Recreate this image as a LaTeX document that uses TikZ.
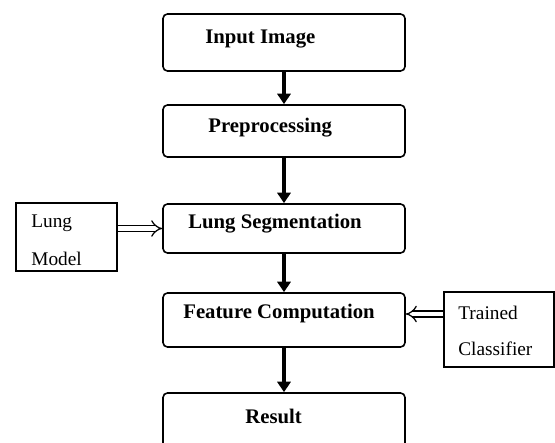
\documentclass[tikz,border=0pt]{standalone}
\usepackage{fontspec}
\setmainfont{Liberation Serif}
\usetikzlibrary{arrows.meta,positioning}

\begin{document}
\begin{tikzpicture}[x=0.02cm,y=-0.02cm,
  block/.style={draw,rounded corners=2.5pt,line width=0.9pt,minimum width=4.84cm},
  side/.style={draw,line width=0.9pt},
  txt/.style={anchor=west,inner sep=0pt,font=\fontsize{11.8}{14}\selectfont\bfseries},
  stxt/.style={anchor=west,inner sep=0pt,font=\fontsize{11}{13}\selectfont},
  flow/.style={line width=1.8pt,-{Triangle[length=6pt,width=7.5pt]}},
  feed/.style={double,double distance=2.6pt,line width=0.7pt,-{Implies[scale=1.4]}}]
  \useasboundingbox (0,0) rectangle (555,443);

  % main chain
  \node[block,minimum height=1.14cm] (inp)  at (284,42.5) {};
  \node[block,minimum height=1.04cm] (pre)  at (284,131)  {};
  \node[block,minimum height=0.98cm] (seg)  at (284,228.5) {};
  \node[block,minimum height=1.08cm] (feat) at (284,320)  {};
  \node[block,minimum height=1.40cm] (res)  at (284,428)  {};

  \node[txt] (inpT)  at (205,39)  {Input Image};
  \node[txt] (preT)  at (208,128) {Preprocessing};
  \node[txt] (segT)  at (188,224) {Lung Segmentation};
  \node[txt] (featT) at (183,314) {Feature Computation};
  \node[txt] (resT)  at (245,416) {Result};

  % side inputs
  \node[side,minimum width=2.02cm,minimum height=1.36cm] (model) at (66.5,237) {};
  \node[stxt] (modelA) at (31,223) {Lung};
  \node[stxt] (modelB) at (31,259) {Model};

  \node[side,minimum width=2.2cm,minimum height=1.5cm] (clf) at (499,329.5) {};
  \node[stxt] (clfA) at (458,313) {Trained};
  \node[stxt] (clfB) at (458,349) {Classifier};

  \path[flow] (inp)  edge (pre)
              (pre)  edge (seg)
              (seg)  edge (feat)
              (feat) edge (res);

  \draw[feed] (seg.west -| model.east) -- (seg.west);
  \draw[feed] (featT -| clf.west) -- (featT -| feat.east);
\end{tikzpicture}
\end{document}
